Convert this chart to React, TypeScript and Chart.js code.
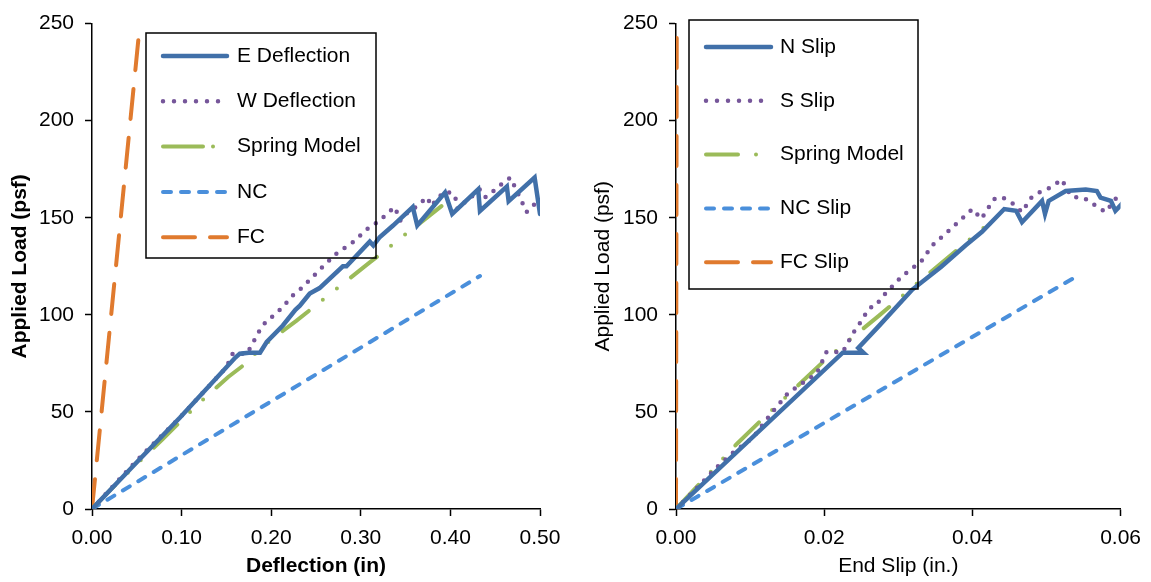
import React, { useEffect, useRef } from 'react';
import { Chart, registerables } from 'chart.js';

Chart.register(...registerables);

// ---------- Left panel: Deflection ----------
const eDeflectionX = [0, 0.054, 0.098, 0.16, 0.165, 0.175, 0.1875, 0.195, 0.213, 0.227, 0.232, 0.243, 0.254, 0.28, 0.284, 0.31, 0.314, 0.321, 0.336, 0.358, 0.363, 0.394, 0.402, 0.431, 0.433, 0.463, 0.465, 0.494, 0.5];
const eDeflectionY = [0, 26, 47, 78, 80, 80.5, 80.5, 86, 94.5, 102.6, 104.7, 111, 113.8, 125, 125, 137.7, 135.7, 140, 146, 155.5, 146, 163, 152, 164.6, 153.5, 166, 158.5, 170.7, 152];

const wDeflectionX = [0, 0.05, 0.1, 0.15, 0.157, 0.173, 0.19, 0.212, 0.224, 0.234, 0.258, 0.273, 0.292, 0.31, 0.321, 0.329, 0.338, 0.344, 0.347, 0.363, 0.374, 0.379, 0.386, 0.396, 0.405, 0.408, 0.416, 0.424, 0.433, 0.439, 0.448, 0.458, 0.467, 0.475, 0.485, 0.492, 0.5];
const wDeflectionY = [0, 25, 48, 73, 80, 80, 94.5, 103.6, 110, 113.8, 125, 131.6, 137.7, 145.3, 148.4, 152, 155.5, 148.5, 151, 156, 160.6, 156, 160.6, 163.6, 161.7, 154.5, 158, 161, 164.6, 160.6, 163.8, 167.7, 170.7, 163, 153, 156, 160.6];

const springDeflX = [0, 0.02, 0.05, 0.079, 0.108, 0.124, 0.152, 0.169, 0.184, 0.2005, 0.228, 0.28, 0.31, 0.327, 0.344, 0.36, 0.39];
const springDeflY = [0, 9.6, 23.2, 36, 49.4, 56.4, 68, 74, 80.8, 87.5, 96.9, 116, 127, 133, 139.5, 145, 156];

const ncDeflX = [0, 0.433];
const ncDeflY = [0, 120];

const fcDeflX = [0, 0.0535];
const fcDeflY = [0, 250];

// ---------- Right panel: End Slip ----------
const nSlipX = [0, 0.0225, 0.0253, 0.0246, 0.0274, 0.0319, 0.0358, 0.0391, 0.0413, 0.0443, 0.0459, 0.0467, 0.0494, 0.0498, 0.0503, 0.0526, 0.0553, 0.0568, 0.0573, 0.0587, 0.0593, 0.0604];
const nSlipY = [0, 80.5, 80.5, 83, 94.3, 113, 124.8, 135.8, 142.8, 154.5, 153.6, 147.7, 158.7, 152, 158.7, 163.8, 164.6, 163.8, 160.4, 158.7, 153.6, 158];

const sSlipX = [0, 0.0036, 0.0055, 0.0075, 0.0104, 0.0129, 0.0151, 0.0167, 0.019, 0.0203, 0.0225, 0.0238, 0.0247, 0.0261, 0.027, 0.0277, 0.0305, 0.0331, 0.0346, 0.0371, 0.04, 0.0412, 0.0429, 0.044, 0.0456, 0.0467, 0.048, 0.049, 0.0506, 0.0521, 0.0526, 0.0534, 0.0553, 0.0573, 0.058, 0.0595, 0.0605];
const sSlipY = [0, 13.9, 21.5, 28.4, 36.8, 49.4, 59.6, 63.9, 69.8, 80.8, 80.8, 90, 95, 103.6, 104.6, 108.7, 119.9, 127.5, 135.8, 144.3, 154.5, 149.4, 159.6, 160.6, 157, 152.9, 160.6, 163, 165.7, 169.7, 165.7, 161, 159.6, 154.5, 153, 160.6, 161];

const springSlipX = [0, 0.0082, 0.0113, 0.0203, 0.0274, 0.0339, 0.0393, 0.0433];
const springSlipY = [0, 33.5, 45, 77.4, 99.6, 120.6, 137.7, 150.6];

const ncSlipX = [0, 0.0537];
const ncSlipY = [0, 119];

const fcSlipX = [0, 0.0001];
const fcSlipY = [0, 250];

// ---------- Labels / ticks ----------
const leftLabels = ['E Deflection', 'W Deflection', 'Spring Model', 'NC', 'FC'];
const rightLabels = ['N Slip', 'S Slip', 'Spring Model', 'NC Slip', 'FC Slip'];
const yTitle = 'Applied Load (psf)';
const leftXTitle = 'Deflection (in)';
const rightXTitle = 'End Slip (in.)';
const yMax = 250;
const yStep = 50;
const leftXMax = 0.5;
const leftXStep = 0.1;
const rightXMax = 0.06;
const rightXStep = 0.02;

const FONT = '"Liberation Sans", Arial, sans-serif';

const pts = (xs: number[], ys: number[]) => xs.map((x, i) => ({ x, y: ys[i] }));

const styles = [
  { borderColor: '#4170A9', borderWidth: 4.5, borderDash: [], borderCapStyle: 'round' },
  { borderColor: '#76569A', borderWidth: 4.5, borderDash: [0, 10], borderCapStyle: 'round' },
  { borderColor: '#9BBB59', borderWidth: 4, borderDash: [33, 18, 0, 18, 0, 18], borderCapStyle: 'round' },
  { borderColor: '#4A8FDB', borderWidth: 4, borderDash: [8, 10], borderCapStyle: 'round' },
  { borderColor: '#E07A2E', borderWidth: 4, borderDash: [30, 19], borderCapStyle: 'round' },
];

const boxLegend = {
  id: 'boxLegend',
  afterDraw(chart: any, _args: any, opts: any) {
    const { ctx } = chart;
    ctx.save();
    ctx.setLineDash([]);
    ctx.lineWidth = 1.5;
    ctx.strokeStyle = '#000';
    ctx.strokeRect(opts.x, opts.y, opts.w, opts.h);
    chart.data.datasets.forEach((ds: any, i: number) => {
      const y = opts.firstRowY + i * opts.rowGap;
      ctx.beginPath();
      ctx.strokeStyle = ds.borderColor;
      ctx.lineWidth = ds.borderWidth;
      ctx.lineCap = ds.borderCapStyle || 'butt';
      const dash = (opts.legendDash && opts.legendDash[i]) || ds.borderDash || [];
      ctx.setLineDash(dash);
      ctx.moveTo(opts.lineX1 + 2, y);
      ctx.lineTo(opts.lineX2 - 2, y);
      ctx.stroke();
      ctx.setLineDash([]);
      ctx.fillStyle = '#000';
      ctx.font = '21px ' + FONT;
      ctx.textBaseline = 'middle';
      ctx.textAlign = 'left';
      ctx.fillText(ds.label, opts.textX, y);
    });
    ctx.restore();
  },
};

function makeConfig(p: any) {
  return {
    type: 'scatter',
    data: {
      datasets: p.series.map((s: any, i: number) => ({
        label: p.labels[i],
        data: s,
        showLine: true,
        pointRadius: 0,
        pointHoverRadius: 0,
        fill: false,
        tension: 0,
        ...styles[i],
      })).reverse(),
    },
    options: {
      responsive: false,
      animation: false,
      events: [],
      layout: { padding: { top: 17, right: p.padRight, bottom: 0, left: 0 } },
      plugins: {
        legend: { display: false },
        tooltip: { enabled: false },
        boxLegend: p.legend,
      },
      scales: {
        x: {
          type: 'linear',
          min: 0,
          max: p.xMax,
          ticks: {
            stepSize: p.xStep,
            callback: (v: any) => Number(v).toFixed(2),
            color: '#000',
            font: { size: 21, family: FONT },
            padding: 10,
            maxRotation: 0,
            autoSkip: false,
          },
          grid: { display: true, drawOnChartArea: false, drawTicks: true, tickLength: 7, tickWidth: 1.5, tickColor: '#000' },
          border: { display: true, color: '#000', width: 1.5 },
          title: {
            display: true,
            text: p.xTitle,
            color: '#000',
            font: { size: 21, family: FONT, weight: p.bold ? 'bold' : 'normal' },
            padding: { top: 0, bottom: 3 },
          },
          afterFit: (s: any) => { s.height = 73; },
        },
        y: {
          type: 'linear',
          min: 0,
          max: yMax,
          ticks: {
            stepSize: yStep,
            color: '#000',
            font: { size: 21, family: FONT },
            padding: 11,
          },
          grid: { display: true, drawOnChartArea: false, drawTicks: true, tickLength: 7, tickWidth: 1.5, tickColor: '#000' },
          border: { display: true, color: '#000', width: 1.5 },
          title: {
            display: true,
            text: yTitle,
            color: '#000',
            font: { size: 21, family: FONT, weight: p.bold ? 'bold' : 'normal' },
            padding: { top: p.yTitlePad, bottom: 0 },
          },
          afterFit: (s: any) => { s.width = p.yWidth; },
        },
      },
    },
    plugins: [boxLegend],
  };
}

export default function App() {
  const leftRef = useRef<HTMLCanvasElement>(null);
  const rightRef = useRef<HTMLCanvasElement>(null);

  useEffect(() => {
    const leftSeries = [
      pts(eDeflectionX, eDeflectionY),
      pts(wDeflectionX, wDeflectionY),
      pts(springDeflX, springDeflY),
      pts(ncDeflX, ncDeflY),
      pts(fcDeflX, fcDeflY),
    ];
    const rightSeries = [
      pts(nSlipX, nSlipY),
      pts(sSlipX, sSlipY),
      pts(springSlipX, springSlipY),
      pts(ncSlipX, ncSlipY),
      pts(fcSlipX, fcSlipY),
    ];
    const left = new Chart(leftRef.current as any, makeConfig({
      series: leftSeries,
      labels: leftLabels,
      xMax: leftXMax,
      xStep: leftXStep,
      xTitle: leftXTitle,
      bold: true,
      padRight: 35,
      yWidth: 92,
      yTitlePad: 8,
      legend: {
        x: 146, y: 33, w: 230, h: 225,
        firstRowY: 56, rowGap: 45.3,
        lineX1: 161, lineX2: 229, textX: 237,
        legendDash: [null, [0, 11], [40, 10, 0, 40], [8, 10], [32, 15]],
      },
    }) as any);
    const right = new Chart(rightRef.current as any, makeConfig({
      series: rightSeries,
      labels: rightLabels,
      xMax: rightXMax,
      xStep: rightXStep,
      xTitle: rightXTitle,
      bold: false,
      padRight: 29,
      yWidth: 101,
      yTitlePad: 16,
      legend: {
        x: 114, y: 20, w: 229, h: 269,
        firstRowY: 47, rowGap: 53.8,
        lineX1: 129, lineX2: 198, textX: 205,
        legendDash: [null, [0, 11], [32, 18, 0, 40], [8, 10], [32, 15]],
      },
    }) as any);
    // legend order follows original series order
    [left, right].forEach((c) => {
      c.data.datasets.reverse();
      c.update();
    });
    return () => {
      left.destroy();
      right.destroy();
    };
  }, []);

  return (
    <div style={{ position: 'fixed', left: 0, top: 0, width: 1151, height: 582, background: '#fff' }}>
      <canvas ref={leftRef} width={575} height={582} style={{ position: 'absolute', left: 0, top: 0, width: 575, height: 582 }} />
      <canvas ref={rightRef} width={576} height={582} style={{ position: 'absolute', left: 575, top: 0, width: 576, height: 582 }} />
    </div>
  );
}
